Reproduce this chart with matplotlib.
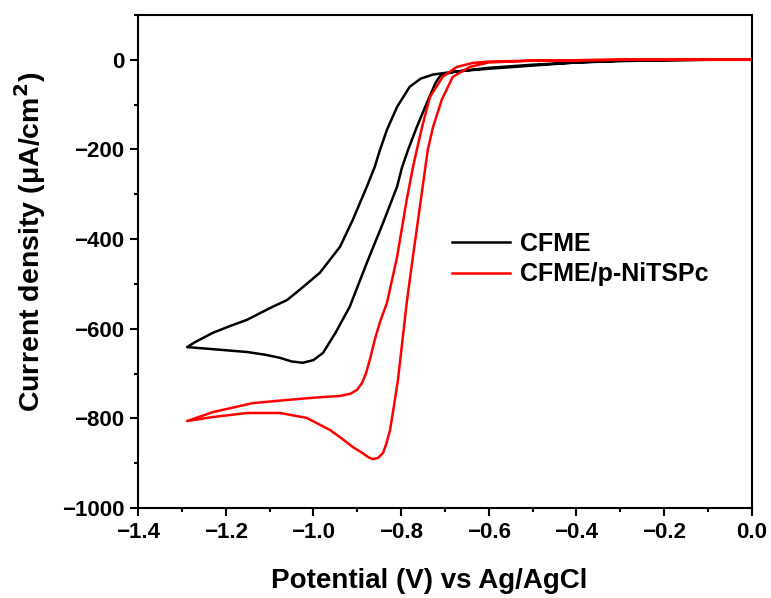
import matplotlib.pyplot as plt
from matplotlib.ticker import MultipleLocator

plt.rcParams['font.family'] = ['Liberation Sans', 'DejaVu Sans']
plt.rcParams['font.weight'] = 'bold'
plt.rcParams['mathtext.default'] = 'bf'

# CFME: forward (cathodic) scan then return scan
cfme_v = [0.0, -0.1, -0.2, -0.3, -0.4, -0.5, -0.6, -0.68, -0.71, -0.721, -0.741, -0.764,
          -0.784, -0.798, -0.809, -0.841, -0.878, -0.917, -0.950, -0.978, -1.000, -1.024,
          -1.050, -1.076, -1.110, -1.151, -1.200, -1.250, -1.288,
          -1.270, -1.229, -1.190, -1.151, -1.099, -1.060, -1.031, -0.985, -0.939, -0.910,
          -0.878, -0.860, -0.848, -0.832, -0.809, -0.780, -0.755, -0.727, -0.69, -0.65,
          -0.6, -0.5, -0.4, -0.3, -0.2, -0.1, 0.0]
cfme_j = [0, 0, -1, -3, -6, -11, -18, -27, -35, -51, -96, -150,
          -201, -241, -283, -364, -453, -551, -610, -654, -670, -676,
          -673, -665, -658, -652, -648, -644, -641,
          -630, -609, -594, -580, -554, -536, -513, -475, -417, -357,
          -283, -239, -201, -156, -105, -60, -42, -33, -28, -24,
          -20, -13, -6, -2, -1, 0, 0]

# CFME/p-NiTSPc
ni_v = [0.0, -0.1, -0.2, -0.3, -0.4, -0.5, -0.6, -0.643, -0.682, -0.707, -0.727, -0.739,
        -0.757, -0.773, -0.787, -0.807, -0.814, -0.825, -0.834, -0.841, -0.852, -0.864, -0.874,
        -0.890, -0.910, -0.935, -0.962, -1.015, -1.076, -1.151, -1.229, -1.288,
        -1.229, -1.138, -1.060, -1.001, -0.939, -0.915, -0.900, -0.889, -0.880, -0.870,
        -0.860, -0.848, -0.832, -0.809, -0.787, -0.773, -0.764, -0.752, -0.734, -0.705,
        -0.673, -0.636, -0.6, -0.5, -0.4, -0.3, -0.2, -0.1, 0.0]
ni_j = [0, 0, 0, 0, -1, -2, -6, -16, -38, -89, -150, -201,
        -328, -440, -542, -714, -759, -826, -858, -877, -888, -891, -887,
        -876, -864, -845, -826, -799, -788, -788, -797, -806,
        -786, -766, -759, -754, -750, -745, -736, -721, -700, -665,
        -625, -585, -542, -440, -312, -241, -201, -150, -83, -38,
        -16, -7, -4, -2, -1, 0, 0, 0, 0]

fig = plt.figure(figsize=(7.71, 5.98), dpi=100)
ax = fig.add_axes([0.179, 0.1505, 0.796, 0.8245])

ax.plot(cfme_v, cfme_j, color='black', lw=1.8, label='CFME')
ax.plot(ni_v, ni_j, color='red', lw=1.8, label='CFME/p-NiTSPc')

ax.set_xlim(-1.4, 0.0)
ax.set_ylim(-1000, 100)
ax.xaxis.set_major_locator(MultipleLocator(0.2))
ax.xaxis.set_minor_locator(MultipleLocator(0.1))
ax.yaxis.set_major_locator(MultipleLocator(200))
ax.yaxis.set_minor_locator(MultipleLocator(100))
ax.xaxis.set_major_formatter(plt.FuncFormatter(lambda v, p: f'{v:.1f}'.replace('-', '\u2212')))
ax.yaxis.set_major_formatter(plt.FuncFormatter(lambda v, p: f'{v:.0f}'.replace('-', '\u2212')))

ax.tick_params(which='major', direction='out', length=6, width=1.5, labelsize=16, pad=4)
ax.tick_params(which='minor', direction='out', length=3, width=1.5)
for s in ax.spines.values():
    s.set_linewidth(1.5)

ax.set_xlabel('Potential (V) vs Ag/AgCl', fontsize=20, fontweight='bold')
ax.set_ylabel('Current density (\u03bcA/cm$^2$)', fontsize=20.5, fontweight='bold')
ax.xaxis.set_label_coords(0.474, -0.122)
ax.yaxis.set_label_coords(-0.147, 0.54)

ax.legend(loc='upper left', bbox_to_anchor=(0.475, 0.605), frameon=False, fontsize=18,
          handlelength=2.3, handletextpad=0.4, labelspacing=0.25)

fig.savefig('out.png', dpi=100)
